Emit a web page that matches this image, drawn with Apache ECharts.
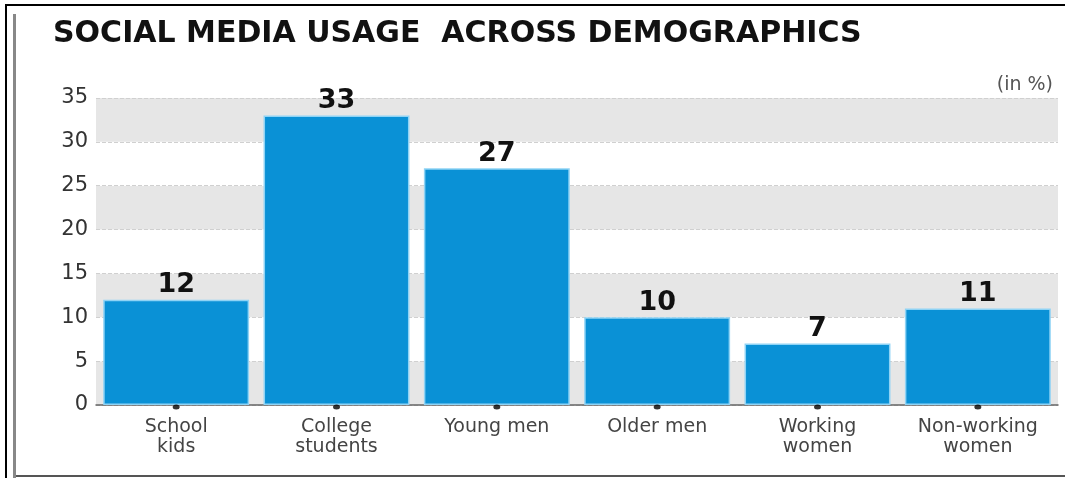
<!DOCTYPE html>
<html><head><meta charset="utf-8">
<script src="https://cdn.jsdelivr.net/npm/echarts@6/dist/echarts.min.js"></script>
<style>html,body{margin:0;padding:0;background:#fff}#c{width:1065px;height:478px}</style>
</head><body><div id="c"></div>
<script>
const categories = ['School\nkids', 'College\nstudents', 'Young men', 'Older men', 'Working\nwomen', 'Non-working\nwomen'];
const values = [12, 33, 27, 10, 7, 11];
const yTicks = [0, 5, 10, 15, 20, 25, 30, 35];
const titleText = 'SOCIAL MEDIA USAGE  ACROSS DEMOGRAPHICS';
const unitText = '(in %)';

const chart = echarts.init(document.getElementById('c'), null, {renderer: 'canvas'});
chart.setOption({
  animation: false,
  backgroundColor: '#fff',
  title: {
    text: titleText, left: 48, top: 14,
    textStyle: {fontFamily: 'DejaVu Sans', fontWeight: 'bold', fontSize: 30, color: '#111'}
  },
  graphic: [
    {type: 'rect', shape: {x: 5, y: 4, width: 1060, height: 2}, style: {fill: '#000'}},
    {type: 'rect', shape: {x: 5, y: 4, width: 2, height: 474}, style: {fill: '#000'}},
    {type: 'rect', shape: {x: 13, y: 14, width: 3, height: 464}, style: {fill: '#888'}},
    {type: 'rect', shape: {x: 16, y: 475, width: 1049, height: 2}, style: {fill: '#555'}},
    {type: 'text', right: 12, top: 76, style: {text: unitText, font: '19px "DejaVu Sans"', fill: '#555'}}
  ],
  grid: {left: 96, right: 7, top: 98, bottom: 73, containLabel: false},
  xAxis: {
    type: 'category', data: categories,
    axisLine: {lineStyle: {color: '#666', width: 1.5}},
    axisTick: {show: false},
    axisLabel: {fontFamily: 'DejaVu Sans', fontSize: 19, color: '#444', lineHeight: 20, margin: 12}
  },
  yAxis: {
    type: 'value', min: 0, max: 35, interval: 5,
    axisLine: {show: false}, axisTick: {show: false},
    axisLabel: {fontFamily: 'DejaVu Sans', fontSize: 21, color: '#333', margin: 8,
      formatter: v => yTicks.includes(v) ? String(v) : ''},
    splitLine: {show: true, lineStyle: {color: '#d0d0d0', type: 'dashed', width: 1}},
    splitArea: {show: true, areaStyle: {color: ['#e6e6e6', '#ffffff']}}
  },
  series: [
    {
      type: 'bar', data: values, barCategoryGap: '9%',
      itemStyle: {color: '#0a91d6', borderColor: '#8fd3f5', borderWidth: 1.5},
      label: {show: true, position: 'top', distance: 1, fontFamily: 'DejaVu Sans', fontWeight: 'bold', fontSize: 27, color: '#111'}
    },
    {
      type: 'scatter', data: values.map(() => 0), symbol: 'circle', symbolSize: [7, 5],
      symbolOffset: [0, 2], itemStyle: {color: '#000'}, z: 5, clip: false, silent: true
    }
  ]
});
</script></body></html>
